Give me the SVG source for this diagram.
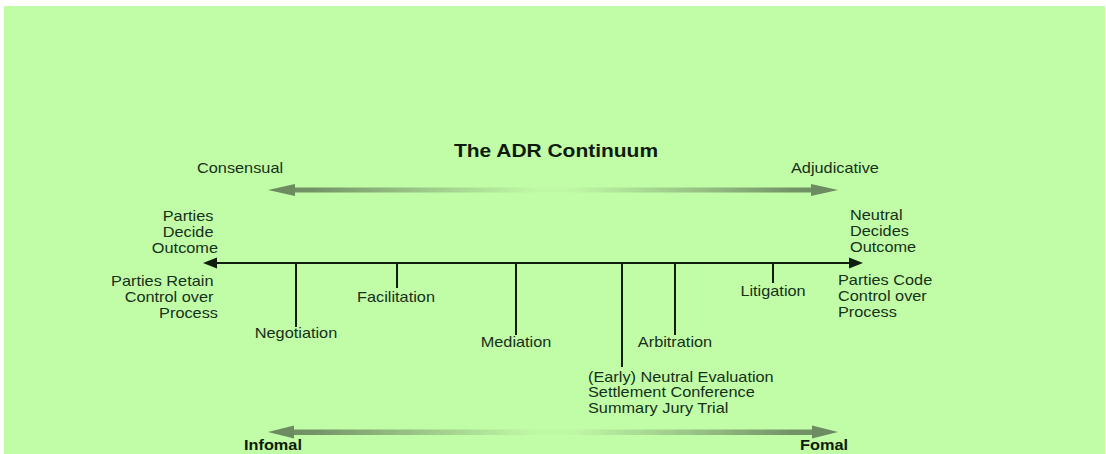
<svg xmlns="http://www.w3.org/2000/svg" width="1106" height="454" viewBox="0 0 1106 454">
  <style>
    .lbl { font-family: "Liberation Sans", Arial, sans-serif; font-size: 14px; fill: #16301a; }
    .ttl { font-family: "Liberation Sans", Arial, sans-serif; font-size: 18px; font-weight: bold; fill: #0e1a0b; }
    .bold { font-family: "Liberation Sans", Arial, sans-serif; font-size: 14px; font-weight: bold; fill: #0e1a0b; }
    .axis { stroke: #111d0e; stroke-width: 2; fill: none; }
    .tick { stroke: #111d0e; stroke-width: 2; }
    .head { fill: #111d0e; }
    .shade-head { fill: #6d8b60; }
  </style>
  <defs>
    <!-- shaft of the soft scale arrows: dark at both ends, fading out in the middle -->
    <linearGradient id="shaft" gradientUnits="userSpaceOnUse" x1="268" y1="0" x2="838" y2="0">
      <stop offset="0" stop-color="#6f8d63" stop-opacity="1"/>
      <stop offset="0.08" stop-color="#6f8d63" stop-opacity="0.95"/>
      <stop offset="0.47" stop-color="#7f9d72" stop-opacity="0.04"/>
      <stop offset="0.53" stop-color="#7f9d72" stop-opacity="0.04"/>
      <stop offset="0.92" stop-color="#6f8d63" stop-opacity="0.95"/>
      <stop offset="1" stop-color="#6f8d63" stop-opacity="1"/>
    </linearGradient>
  </defs>

  <!-- page -->
  <rect x="0" y="0" width="1106" height="454" fill="#ffffff"/>
  <rect x="4" y="6" width="1101" height="448" fill="#c1fca7"/>

  <!-- heading -->
  <g id="title">
    <text class="ttl" text-anchor="middle" transform="translate(556 157) scale(1.165 1)">The ADR Continuum</text>
  </g>

  <!-- connectors: scale arrows and main axis -->
  <g id="connectors">
    <g id="consensual-adjudicative-arrow">
      <rect x="293" y="187.5" width="521" height="5" fill="url(#shaft)"/>
      <polygon class="shade-head" points="268,190 295,184 295,196"/>
      <polygon class="shade-head" points="838,190 811,184 811,196"/>
    </g>
    <g id="axis">
      <line class="axis" x1="214" y1="263" x2="852" y2="263"/>
      <polygon class="head" points="203,263 217,257.5 217,268.5"/>
      <polygon class="head" points="863,263 849,257.5 849,268.5"/>
    </g>
    <g id="informal-formal-arrow">
      <rect x="293" y="429.5" width="521" height="5.5" fill="url(#shaft)"/>
      <polygon class="shade-head" points="268,432 294,425.5 294,438.5"/>
      <polygon class="shade-head" points="838,432 812,425.5 812,438.5"/>
    </g>
  </g>

  <!-- scale end labels -->
  <g id="consensual">
    <text class="lbl" transform="translate(197 173) scale(1.165 1)">Consensual</text>
  </g>
  <g id="adjudicative">
    <text class="lbl" transform="translate(791 173) scale(1.165 1)">Adjudicative</text>
  </g>

  <g id="left-end">
    <text class="lbl" text-anchor="end" transform="translate(218 221) scale(1.165 1)">
      <tspan x="0" y="0">Parties</tspan>
      <tspan x="0" y="16">Decide</tspan>
      <tspan x="0" y="32">Outcome</tspan>
    </text>
    <text class="lbl" text-anchor="end" transform="translate(218 286) scale(1.165 1)">
      <tspan x="0" y="0">Parties Retain</tspan>
      <tspan x="0" y="16">Control over</tspan>
      <tspan x="0" y="32">Process</tspan>
    </text>
  </g>

  <g id="right-end">
    <text class="lbl" transform="translate(850 220) scale(1.165 1)">
      <tspan x="0" y="0">Neutral</tspan>
      <tspan x="0" y="16">Decides</tspan>
      <tspan x="0" y="32">Outcome</tspan>
    </text>
    <text class="lbl" transform="translate(838 285) scale(1.165 1)">
      <tspan x="0" y="0">Parties Code</tspan>
      <tspan x="0" y="16">Control over</tspan>
      <tspan x="0" y="32">Process</tspan>
    </text>
  </g>

  <!-- processes along the axis -->
  <g id="negotiation">
    <line class="tick" x1="296" y1="263" x2="296" y2="327"/>
    <text class="lbl" text-anchor="middle" transform="translate(296 338) scale(1.165 1)">Negotiation</text>
  </g>
  <g id="facilitation">
    <line class="tick" x1="397" y1="263" x2="397" y2="288"/>
    <text class="lbl" text-anchor="middle" transform="translate(396 302) scale(1.165 1)">Facilitation</text>
  </g>
  <g id="mediation">
    <line class="tick" x1="516" y1="263" x2="516" y2="335"/>
    <text class="lbl" text-anchor="middle" transform="translate(516 347) scale(1.165 1)">Mediation</text>
  </g>
  <g id="neutral-evaluation">
    <line class="tick" x1="622" y1="263" x2="622" y2="367"/>
    <text class="lbl" transform="translate(588 382) scale(1.165 1)">
      <tspan x="0" y="0">(Early) Neutral Evaluation</tspan>
      <tspan x="0" y="15.5">Settlement Conference</tspan>
      <tspan x="0" y="31">Summary Jury Trial</tspan>
    </text>
  </g>
  <g id="arbitration">
    <line class="tick" x1="675" y1="263" x2="675" y2="335"/>
    <text class="lbl" text-anchor="middle" transform="translate(675 347) scale(1.165 1)">Arbitration</text>
  </g>
  <g id="litigation">
    <line class="tick" x1="773" y1="263" x2="773" y2="283"/>
    <text class="lbl" text-anchor="middle" transform="translate(773 296) scale(1.165 1)">Litigation</text>
  </g>

  <!-- formality labels -->
  <g id="informal">
    <text class="bold" transform="translate(244 450) scale(1.165 1)">Infomal</text>
  </g>
  <g id="formal">
    <text class="bold" transform="translate(800 450) scale(1.165 1)">Fomal</text>
  </g>
</svg>
